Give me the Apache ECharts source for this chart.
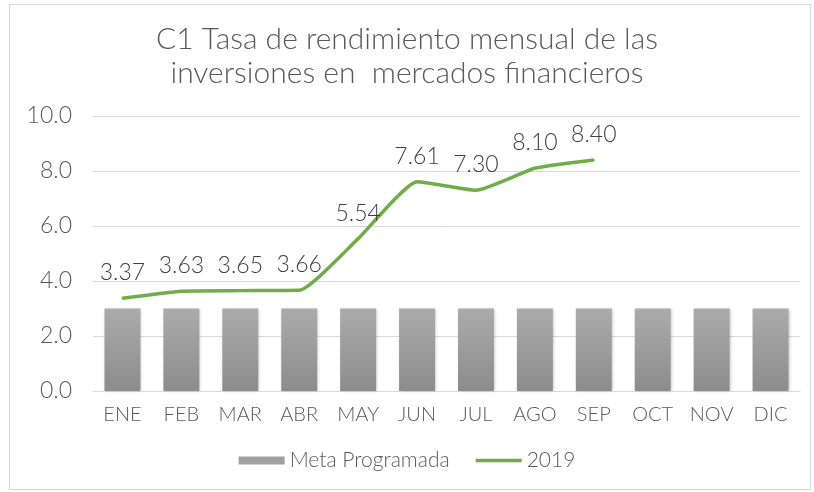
<!DOCTYPE html>
<html>
<head>
<meta charset="utf-8">
<script src="https://cdn.jsdelivr.net/npm/echarts@6/dist/echarts.min.js"></script>
<style>
  html, body { margin: 0; padding: 0; background: #fff; }
  #frame { position: absolute; left: 9px; top: 4px; width: 802px; height: 486px; border: 1px solid #d9d9d9; box-sizing: border-box; }
  #chart { position: absolute; left: 0; top: 0; width: 814px; height: 492px; }
</style>
</head>
<body>
<div id="frame"></div>
<div id="chart"></div>
<script>
const months = ['ENE', 'FEB', 'MAR', 'ABR', 'MAY', 'JUN', 'JUL', 'AGO', 'SEP', 'OCT', 'NOV', 'DIC'];
const meta = [3, 3, 3, 3, 3, 3, 3, 3, 3, 3, 3, 3];
const rend2019 = [3.37, 3.63, 3.65, 3.66, 5.54, 7.61, 7.30, 8.10, 8.40];
const yTicks = [0, 2, 4, 6, 8, 10];

const font = 'Lato, "Noto Sans", sans-serif';
const chart = echarts.init(document.getElementById('chart'), null, { renderer: 'canvas' });

chart.setOption({
  animation: false,
  title: {
    text: 'C1 Tasa de rendimiento mensual de las\ninversiones en  mercados financieros',
    left: 'center',
    top: 17,
    textStyle: { fontFamily: font, fontWeight: 300, fontSize: 30, color: '#595959', lineHeight: 34 }
  },
  legend: {
    bottom: 16,
    left: 'center',
    itemGap: 26,
    itemWidth: 46,
    itemHeight: 8,
    textStyle: { fontFamily: font, fontWeight: 300, fontSize: 21, color: '#595959' },
    data: [
      { name: 'Meta Programada', icon: 'rect', itemStyle: { color: '#a0a0a0' } },
      { name: '2019', icon: 'path://M0,0 L100,0 L100,8 L0,8 Z', itemStyle: { color: '#70ad47', opacity: 1 } }
    ]
  },
  grid: { left: 93, right: 14, top: 116, bottom: 101 },
  xAxis: {
    type: 'category',
    data: months,
    axisLine: { lineStyle: { color: '#d9d9d9' } },
    axisTick: { show: false },
    axisLabel: { fontFamily: font, fontWeight: 300, fontSize: 20, color: '#595959', margin: 14 }
  },
  yAxis: {
    type: 'value',
    min: yTicks[0],
    max: yTicks[yTicks.length - 1],
    interval: 2,
    axisLine: { show: false },
    axisTick: { show: false },
    splitLine: { lineStyle: { color: '#d9d9d9' } },
    axisLabel: {
      fontFamily: font, fontWeight: 300, fontSize: 23, color: '#595959', margin: 21,
      formatter: v => v.toFixed(1)
    }
  },
  series: [
    {
      name: 'Meta Programada',
      type: 'bar',
      data: meta,
      barWidth: '61%',
      itemStyle: {
        color: new echarts.graphic.LinearGradient(0, 0, 0, 1, [
          { offset: 0, color: '#ababab' },
          { offset: 1, color: '#8c8c8c' }
        ]),
        shadowColor: 'rgba(0,0,0,0.25)',
        shadowBlur: 3,
        shadowOffsetX: 1
      }
    },
    {
      name: '2019',
      type: 'line',
      data: rend2019,
      smooth: 0.15,
      symbol: 'circle',
      symbolSize: 2,
      showSymbol: true,
      itemStyle: { color: '#70ad47' },
      lineStyle: { color: '#70ad47', width: 3.5 },
      label: {
        show: true,
        position: 'top',
        distance: 13,
        fontFamily: font,
        fontWeight: 300,
        fontSize: 23,
        color: '#404040',
        formatter: p => p.value.toFixed(2)
      }
    }
  ]
});
</script>
</body>
</html>
